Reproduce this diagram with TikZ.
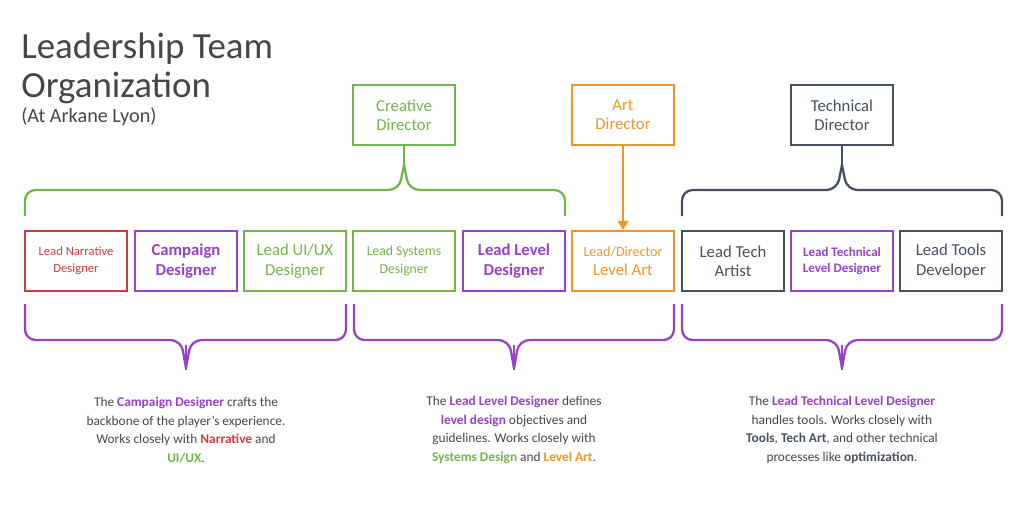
\documentclass[tikz,border=0pt]{standalone}
\usepackage{fontspec}
\setmainfont{Carlito}
\usetikzlibrary{arrows.meta}
\definecolor{ld_red}{RGB}{205, 60, 60}
\definecolor{ld_purple}{RGB}{150, 65, 200}
\definecolor{ld_green}{RGB}{115, 180, 75}
\definecolor{ld_orange}{RGB}{240, 150, 40}
\definecolor{ld_slate}{RGB}{70, 80, 95}
\definecolor{ld_text}{RGB}{70, 70, 70}
\tikzstyle{role}=[rectangle,draw,line width=1.4pt,minimum width=2.04cm,
  minimum height=1.2cm,align=center,inner sep=1pt,font=\fontsize{9.5}{11}\selectfont]
\tikzstyle{note}=[align=center,text=ld_text,font=\fontsize{7.6}{10.6}\selectfont]
\tikzstyle{heading}=[anchor=base west,text=ld_text,inner sep=0pt]
\tikzstyle{brace}=[line width=1.3pt,rounded corners=6pt]
\newcommand{\hl}[2]{\textcolor{#1}{\bfseries #2}}
\begin{document}
\begin{tikzpicture}[x=0.02cm,y=-0.02cm]
            \useasboundingbox (0,0) rectangle (1024,512);
            \node [heading,font=\fontsize{21}{24}\selectfont] (title1) at (21,58) {Leadership Team};
            \node [heading,font=\fontsize{21}{24}\selectfont] (title2) at (21,97) {Organization};
            \node [heading,font=\fontsize{11.5}{13}\selectfont] (sub) at (21,122) {(At Arkane Lyon)};
            \node [role,draw=ld_green,text=ld_green] (cd) at (404, 115) {Creative\\Director};
            \node [role,draw=ld_orange,text=ld_orange] (ad) at (623, 115) {Art\\Director};
            \node [role,draw=ld_slate,text=ld_slate] (td) at (842, 115) {Technical\\Director};
            \node [role,draw=ld_red,text=ld_red,font=\fontsize{7.2}{9.5}\selectfont] (narr) at (76, 261) {Lead Narrative\\Designer};
            \node [role,draw=ld_purple,text=ld_purple,font=\fontsize{9.5}{11}\selectfont\bfseries] (camp) at (186, 261) {Campaign\\Designer};
            \node [role,draw=ld_green,text=ld_green] (uiux) at (295, 261) {Lead UI/UX\\Designer};
            \node [role,draw=ld_green,text=ld_green,font=\fontsize{7.8}{10}\selectfont] (sys) at (404, 261) {Lead Systems\\Designer};
            \node [role,draw=ld_purple,text=ld_purple,font=\fontsize{9.5}{11}\selectfont\bfseries] (lld) at (514, 261) {Lead Level\\Designer};
            \node [role,draw=ld_orange,text=ld_orange] (art) at (623, 261) {{\fontsize{8}{9}\selectfont Lead/Director}\\Level Art};
            \node [role,draw=ld_slate,text=ld_slate] (tart) at (733, 261) {Lead Tech\\Artist};
            \node [role,draw=ld_purple,text=ld_purple,font=\fontsize{7.4}{9.5}\selectfont\bfseries] (tld) at (842, 261) {Lead Technical\\Level Designer};
            \node [role,draw=ld_slate,text=ld_slate] (tools) at (951, 261) {Lead Tools\\Developer};
            % braces above
            \draw [brace,draw=ld_green] (25,216) -- (25,190) -- (399,190) -- (404,165);
            \draw [brace,draw=ld_green] (565,216) -- (565,190) -- (409,190) -- (404,165);
            \draw [line width=1.3pt,draw=ld_green] (cd.south) -- (404,165);
            \draw [brace,draw=ld_slate] (682,216) -- (682,190) -- (837,190) -- (842,165);
            \draw [brace,draw=ld_slate] (1002,216) -- (1002,190) -- (847,190) -- (842,165);
            \draw [line width=1.3pt,draw=ld_slate] (td.south) -- (842,165);
            \draw [line width=1.3pt,draw=ld_orange,-{Triangle[length=5pt,width=6pt]}] (ad.south) -- (art.north);
            % braces below
            \foreach \l/\c/\r in {25/186/346, 354/514/674, 682/842/1002} {
              \draw [brace,draw=ld_purple] (\l,304) -- (\l,340) -- (\c-5,340) -- (\c,368);
              \draw [brace,draw=ld_purple] (\r,304) -- (\r,340) -- (\c+5,340) -- (\c,368);
              \draw [line width=1.3pt,draw=ld_purple] (\c,345) -- (\c,370);
            }
            \node [note] (n1) at (186, 430) {The \hl{ld_purple}{Campaign Designer} crafts the\\
              backbone of the player's experience.\\Works closely with \hl{ld_red}{Narrative} and\\\hl{ld_green}{UI/UX}.};
            \node [note] (n2) at (514, 430) {The \hl{ld_purple}{Lead Level Designer} defines\\
              \hl{ld_purple}{level design} objectives and\\guidelines. Works closely with\\
              \hl{ld_green}{Systems Design} and \hl{ld_orange}{Level Art}.};
            \node [note] (n3) at (842, 430) {The \hl{ld_purple}{Lead Technical Level Designer}\\
              handles tools. Works closely with\\\hl{ld_slate}{Tools}, \hl{ld_slate}{Tech Art}, and other technical\\
              processes like \hl{ld_slate}{optimization}.};
    \end{tikzpicture}
\end{document}
